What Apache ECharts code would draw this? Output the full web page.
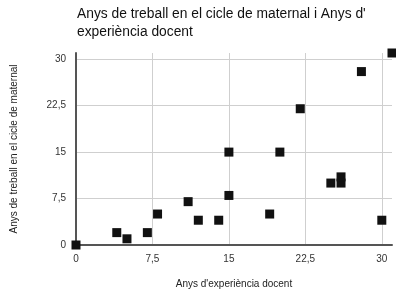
<!DOCTYPE html>
<html><head><meta charset="utf-8">
<script src="https://cdn.jsdelivr.net/npm/echarts@6/dist/echarts.min.js"></script>
<style>html,body{margin:0;padding:0;background:#fff}#c{width:396px;height:294px}</style>
</head><body><div id="c"></div>
<script>
const titleLines = ["Anys de treball en el cicle de maternal i Anys d'", "experiència docent"];
const xName = "Anys d'experiència docent";
const yName = "Anys de treball en el cicle de maternal";
const xValues = [0, 4, 5, 7, 8, 11, 12, 14, 15, 15, 19, 20, 22, 25, 26, 26, 28, 30, 31];
const yValues = [0, 2, 1, 2, 5, 7, 4, 4, 8, 15, 5, 15, 22, 10, 10, 11, 28, 4, 31];
const tickStep = 7.5;
const axisMax = 31;

const fmt = v => (Math.abs(v / tickStep - Math.round(v / tickStep)) < 1e-9) ? String(v).replace('.', ',') : '';
const font = 'Liberation Sans, Arial, sans-serif';
const chart = echarts.init(document.getElementById('c'), null, {renderer: 'canvas'});
const axisCommon = {
  type: 'value', min: 0, max: axisMax, interval: tickStep,
  nameLocation: 'middle',
  nameTextStyle: {fontSize: 10, color: '#222', fontFamily: font},
  axisLine: {show: true, lineStyle: {color: '#555', width: 2}},
  axisTick: {show: false},
  axisLabel: {formatter: fmt, fontSize: 10, color: '#333', fontFamily: font},
  splitLine: {show: true, showMinLine: false, showMaxLine: false, lineStyle: {color: '#cfcfcf', width: 1}}
};
chart.setOption({
  animation: false,
  title: {
    text: titleLines.join('\n'), left: 77, top: 5, padding: 0,
    textStyle: {fontSize: 13.8, fontWeight: 'normal', color: '#111', fontFamily: font, lineHeight: 18}
  },
  grid: {left: 76, right: 4, top: 53, bottom: 47, containLabel: false},
  xAxis: Object.assign({}, axisCommon, {name: xName, nameGap: 34,
    axisLabel: Object.assign({}, axisCommon.axisLabel, {margin: 9})}),
  yAxis: Object.assign({}, axisCommon, {name: yName, nameGap: 57,
    axisLabel: Object.assign({}, axisCommon.axisLabel, {margin: 10})}),
  series: [{
    type: 'scatter', clip: false, symbol: 'rect', symbolSize: 9,
    itemStyle: {color: '#111', opacity: 1},
    data: xValues.map((x, i) => [x, yValues[i]])
  }]
});
</script></body></html>
